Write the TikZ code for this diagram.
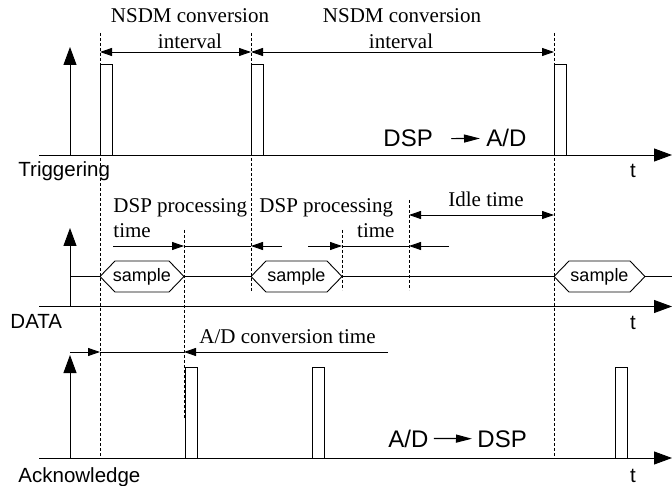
\documentclass[tikz,border=0pt]{standalone}
\usepackage{fontspec}
\setmainfont{Liberation Serif}
\setsansfont{Liberation Sans}
\usetikzlibrary{arrows.meta}
\begin{document}
\begin{tikzpicture}[x=1pt,y=-1pt,
  line width=0.9pt,
  axis/.style={-{Triangle[length=18pt,width=13pt]}},
  dimarrow/.style={-{Triangle[length=12pt,width=8pt]}},
  dimboth/.style={{Triangle[length=12pt,width=8pt]}-{Triangle[length=12pt,width=8pt]}},
  guide/.style={dash pattern=on 3pt off 2pt, line width=0.9pt},
  dirarrow/.style={-{Triangle[length=16pt,width=8pt]}, line width=1.2pt},
  serif/.style={font=\fontsize{21}{25}\selectfont, inner sep=0pt},
  sans/.style={font=\sffamily\fontsize{20.5}{24}\selectfont, inner sep=0pt},
  big/.style={font=\sffamily\fontsize{24}{28}\selectfont, inner sep=0pt},
  smp/.style={font=\sffamily\fontsize{18}{20}\selectfont, inner sep=0pt},
]
\useasboundingbox (0,0) rectangle (672,486);

% ---- time instants (x) ----
% t0 = 100, t1 = 184, t2 = 251, t3 = 342, t4 = 409, t5 = 554

% ---- axes: triggering, data, acknowledge ----
\foreach \row/\base/\top in {trg/155/47, dat/306.5/228, ack/458/355} {
  \coordinate (\row O) at (39,\base);
  \coordinate (\row E) at (672,\base);
  \coordinate (\row Y0) at (70,\base);
  \coordinate (\row Y1) at (70,\top);
  \draw[axis] (\row O) -- (\row E);
  \draw[axis] (\row Y0) -- (\row Y1);
}

% ---- trigger pulses ----
\foreach \x in {100,251,554}
  \draw (\x,155) rectangle ({\x+12},64);

% ---- acknowledge pulses ----
\foreach \x in {185,312,615}
  \draw (\x,458) rectangle ({\x+12},367);

% ---- guide lines ----
\draw[guide] (100,33) -- (100,458);
\draw[guide] (251,33) -- (251,292);
\draw[guide] (554,33) -- (554,458);
\draw[guide] (184,230) -- (184,418);
\draw[guide] (342,230) -- (342,290);
\draw[guide] (409,200) -- (409,290);

% ---- NSDM conversion intervals ----
\coordinate (n0) at (100,52);
\coordinate (n1) at (251,52);
\coordinate (n2) at (554,52);
\draw[dimboth] (n0) -- (n1);
\draw[dimboth] (n1) -- (n2);
\node[serif, anchor=base] (nsdm1) at (190,23) {NSDM conversion};
\node[serif, anchor=base] (int1) at (190,49) {interval};
\node[serif, anchor=base] (nsdm2) at (402,23) {NSDM conversion};
\node[serif, anchor=base] (int2) at (401,49) {interval};

\node[big, anchor=base west] (dspA) at (383,147) {DSP};
\node[big, anchor=base west] (adA) at (486,147) {A/D};
\draw[dirarrow, shorten <=18pt, shorten >=6pt] (dspA.east) -- (adA.west);

\node[sans, anchor=base west] (trg) at (18,177) {Triggering};
\node[sans, anchor=base] (tA) at (633,178) {t};

% ---- data line with samples ----
\foreach \a/\b/\n in {100/184/1, 251/342/2, 554/645/3} {
  \node[smp] (sample\n) at ({(\a+\b)/2},276.5) {sample};
  \draw ({\a},276.5) -- ({\a+15},261) -- ({\b-15},261) -- ({\b},276.5)
        -- ({\b-15},292) -- ({\a+15},292) -- cycle;
}
\draw (70,276.5) -- (100,276.5);
\draw (184,276.5) -- (251,276.5);
\draw (342,276.5) -- (554,276.5);
\draw (645,276.5) -- (672,276.5);

% ---- DSP processing / idle ----
\coordinate (p0) at (113,246);
\coordinate (p1) at (184,246);
\coordinate (p2) at (251,246);
\coordinate (p2r) at (282,246);
\coordinate (p3l) at (308,246);
\coordinate (p3) at (342,246);
\coordinate (p4) at (409,246);
\coordinate (p4r) at (449,246);
\draw[dimarrow] (p0) -- (p1);
\draw (p1) -- (p2);
\draw[dimarrow] (p2r) -- (p2);
\draw[dimarrow] (p3l) -- (p3);
\draw (p3) -- (p4);
\draw[dimarrow] (p4r) -- (p4);
\draw[dimboth] (409,215) -- (554,215);

\node[serif, anchor=base west] (proc1) at (113,213) {DSP processing};
\node[serif, anchor=base west] (time1) at (113,238) {time};
\node[serif, anchor=base west] (proc2) at (259,213) {DSP processing};
\node[serif, anchor=base east] (time2) at (395,238) {time};
\node[serif, anchor=base] (idle) at (486,207) {Idle time};

\node[sans, anchor=base west] (data) at (10,329) {DATA};
\node[sans, anchor=base] (tB) at (633,330) {t};

% ---- A/D conversion time ----
\coordinate (c0) at (70,352);
\coordinate (c1) at (100,352);
\coordinate (c2) at (184,352);
\coordinate (c3) at (388,352);
\draw[dimarrow] (c0) -- (c1);
\draw (c1) -- (c2);
\draw[dimarrow] (c3) -- (c2);
\node[serif, anchor=base west] (adconv) at (199,343) {A/D conversion time};

\node[big, anchor=base west] (adB) at (388,447) {A/D};
\node[big, anchor=base west] (dspB) at (477,447) {DSP};
\draw[dirarrow, shorten <=5pt, shorten >=5pt] (adB.east) -- (dspB.west);

\node[sans, anchor=base west] (ack) at (18,482) {Acknowledge};
\node[sans, anchor=base] (tC) at (633,482) {t};
\end{tikzpicture}
\end{document}
